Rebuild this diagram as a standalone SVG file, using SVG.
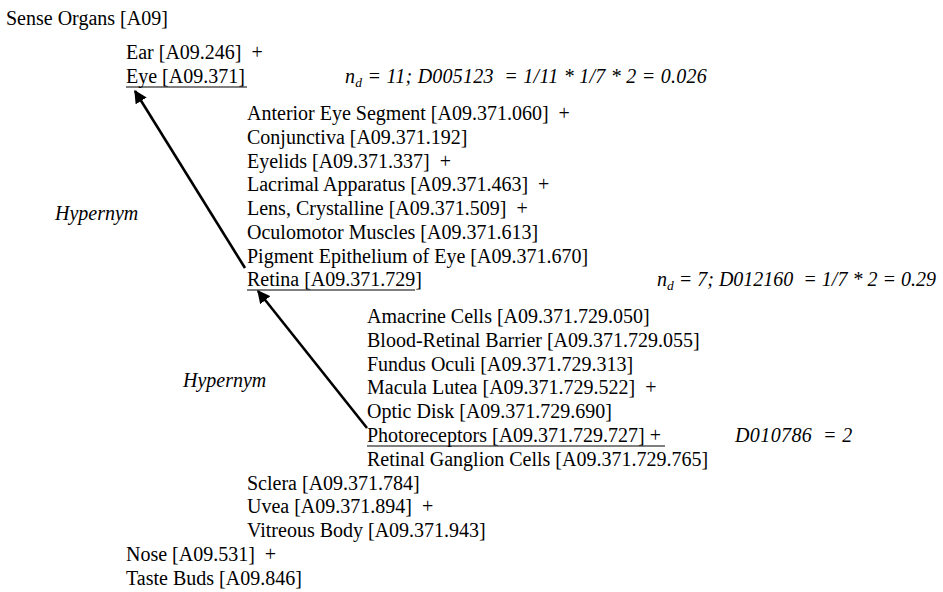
<svg xmlns="http://www.w3.org/2000/svg" width="943" height="592" viewBox="0 0 943 592">
<defs>
<style>
.t{font-size:20px;fill:#000;white-space:pre}
.it{font-style:italic}
.ul{stroke:#000;stroke-width:1.2}
.conn{stroke:#000;stroke-width:2.6;fill:none}
</style>
<marker id="ah" viewBox="0 0 10 10" refX="9" refY="5" markerWidth="5" markerHeight="5" orient="auto" markerUnits="strokeWidth">
<path d="M0,0 L10,5 L0,10 z" fill="#000"/>
</marker>
</defs>
<rect width="943" height="592" fill="#fff"/>
<g font-family="Liberation Serif, serif">
<g id="n-sense"><text class="t" x="6" y="25">Sense Organs [A09]</text></g>
<g id="n-ear"><text class="t" x="126" y="59">Ear [A09.246]  +</text></g>
<g id="n-eye"><text class="t" x="126" y="83">Eye [A09.371]</text><line class="ul" x1="126" y1="87" x2="247" y2="87"/></g>
<g id="n-eye-children">
<text class="t" x="247" y="120">Anterior Eye Segment [A09.371.060]  +</text>
<text class="t" x="247" y="143.8">Conjunctiva [A09.371.192]</text>
<text class="t" x="247" y="167.6">Eyelids [A09.371.337]  +</text>
<text class="t" x="247" y="191.4">Lacrimal Apparatus [A09.371.463]  +</text>
<text class="t" x="247" y="215.2">Lens, Crystalline [A09.371.509]  +</text>
<text class="t" x="247" y="239">Oculomotor Muscles [A09.371.613]</text>
<text class="t" x="247" y="262.8">Pigment Epithelium of Eye [A09.371.670]</text>
</g>
<g id="n-retina"><text class="t" x="247" y="286">Retina [A09.371.729]</text><line class="ul" x1="247" y1="290" x2="415" y2="290"/></g>
<g id="n-retina-children">
<text class="t" x="367" y="323">Amacrine Cells [A09.371.729.050]</text>
<text class="t" x="367" y="346.8">Blood-Retinal Barrier [A09.371.729.055]</text>
<text class="t" x="367" y="370.6">Fundus Oculi [A09.371.729.313]</text>
<text class="t" x="367" y="394.4">Macula Lutea [A09.371.729.522]  +</text>
<text class="t" x="367" y="418.2">Optic Disk [A09.371.729.690]</text>
</g>
<g id="n-photo"><text class="t" x="367" y="442">Photoreceptors [A09.371.729.727] +</text><line class="ul" x1="367" y1="446" x2="665" y2="446"/></g>
<g id="n-rgc"><text class="t" x="367" y="465.8">Retinal Ganglion Cells [A09.371.729.765]</text></g>
<g id="n-eye-children2">
<text class="t" x="247" y="489.6">Sclera [A09.371.784]</text>
<text class="t" x="247" y="513.4">Uvea [A09.371.894]  +</text>
<text class="t" x="247" y="537.2">Vitreous Body [A09.371.943]</text>
</g>
<g id="n-nose"><text class="t" x="126" y="561">Nose [A09.531]  +</text></g>
<g id="n-taste"><text class="t" x="126" y="584.8">Taste Buds [A09.846]</text></g>
<g id="labels">
<text class="t it" x="345" y="83" letter-spacing="0.25">n<tspan font-size="13.5" dy="4">d</tspan><tspan dy="-4"> = 11; D005123  = 1/11 * 1/7 * 2 = 0.026</tspan></text>
<text class="t it" x="657" y="286">n<tspan font-size="13.5" dy="4">d</tspan><tspan dy="-4"> = 7; D012160  = 1/7 * 2 = 0.29</tspan></text>
<text class="t it" x="735" y="442" letter-spacing="0.4">D010786  = 2</text>
<text class="t it" x="55" y="220">Hypernym</text>
<text class="t it" x="183" y="387">Hypernym</text>
</g>
</g>
<g id="connectors">
<line class="conn" x1="245" y1="268" x2="135" y2="91" marker-end="url(#ah)"/>
<line class="conn" x1="367" y1="428" x2="258" y2="291" marker-end="url(#ah)"/>
</g>
</svg>
